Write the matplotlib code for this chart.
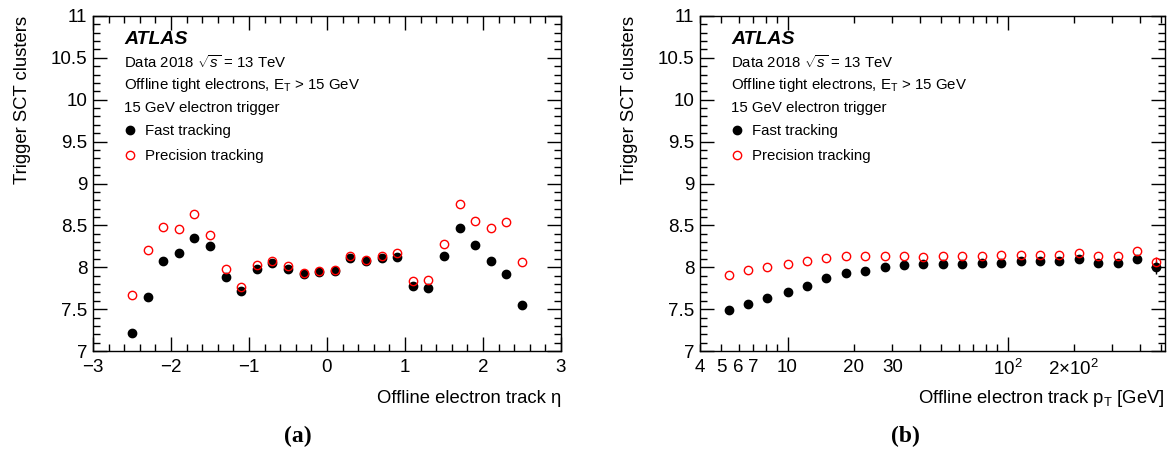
import matplotlib
matplotlib.use("Agg")
import matplotlib.pyplot as plt
from matplotlib.ticker import MultipleLocator, FixedLocator, FixedFormatter, FuncFormatter
from matplotlib.lines import Line2D

plt.rcParams['font.family'] = ['Liberation Sans', 'DejaVu Sans']
plt.rcParams['mathtext.fontset'] = 'custom'
plt.rcParams['mathtext.rm'] = 'Liberation Sans'
plt.rcParams['mathtext.it'] = 'Liberation Sans:italic'
plt.rcParams['mathtext.bf'] = 'Liberation Sans:bold'

# ---------------- data ----------------
eta = [-2.5, -2.3, -2.1, -1.9, -1.7, -1.5, -1.3, -1.1, -0.9, -0.7, -0.5, -0.3, -0.1,
       0.1, 0.3, 0.5, 0.7, 0.9, 1.1, 1.3, 1.5, 1.7, 1.9, 2.1, 2.3, 2.5]
eta_fast = [7.22, 7.65, 8.08, 8.17, 8.35, 8.25, 7.88, 7.72, 7.98, 8.05, 7.98, 7.92, 7.94,
            7.96, 8.11, 8.07, 8.11, 8.12, 7.78, 7.75, 8.13, 8.47, 8.26, 8.07, 7.92, 7.55]
eta_prec = [7.67, 8.21, 8.48, 8.46, 8.63, 8.39, 7.98, 7.77, 8.03, 8.08, 8.01, 7.93, 7.95,
            7.97, 8.13, 8.09, 8.14, 8.17, 7.83, 7.85, 8.28, 8.76, 8.55, 8.47, 8.54, 8.06]

pt = [5.4, 6.6, 8.1, 10.0, 12.2, 15.0, 18.4, 22.5, 27.6, 33.8, 41.5, 50.8, 62.3, 76.3,
      93.5, 114.6, 140.4, 172.0, 210.8, 258.3, 316.5, 387.8, 475.0]
pt_fast = [7.49, 7.56, 7.63, 7.70, 7.78, 7.87, 7.93, 7.96, 8.00, 8.03, 8.04, 8.04, 8.04,
           8.05, 8.05, 8.07, 8.07, 8.07, 8.10, 8.05, 8.05, 8.10, 8.00]
pt_prec = [7.91, 7.97, 8.00, 8.04, 8.08, 8.11, 8.13, 8.13, 8.13, 8.13, 8.12, 8.13, 8.13,
           8.14, 8.15, 8.15, 8.15, 8.15, 8.17, 8.13, 8.13, 8.19, 8.06]
pt_fast_err = [0, 0, 0, 0, 0, 0, 0, 0, 0, 0, 0, 0, 0, 0, 0, 0, 0, 0, 0, 0, 0, 0, 0.08]
pt_prec_err = [0, 0, 0, 0, 0, 0, 0, 0, 0, 0, 0, 0, 0, 0, 0, 0, 0, 0, 0, 0, 0, 0, 0.06]

pt_major = [10, 100]
pt_major_labels = ['10', '$10^{2}$']
pt_minor = [4, 5, 6, 7, 8, 9, 20, 30, 40, 50, 60, 70, 80, 90, 200, 300, 400, 500]
pt_minor_labels = ['4', '5', '6', '7', '', '', '20', '30', '', '', '', '', '', '',
                   '$2{\\times}10^{2}$', '', '', '']

ylabel = 'Trigger SCT clusters'
info_lines = ['Data 2018 $\\sqrt{s}$ = 13 TeV',
              'Offline tight electrons, E$_\\mathrm{T}$ > 15 GeV',
              '15 GeV electron trigger']
series_labels = ['Fast tracking', 'Precision tracking']

# ---------------- layout ----------------
W, H = 1174, 450
fig = plt.figure(figsize=(W / 100, H / 100), dpi=100)


def rect(x0, y0, x1, y1):
    return [x0 / W, 1 - y1 / H, (x1 - x0) / W, (y1 - y0) / H]


def fxy(x, y):
    return x / W, 1 - y / H


axL = fig.add_axes(rect(93, 16, 561, 351))
axR = fig.add_axes(rect(700, 16, 1165, 351))

TICK_FS = 13.5
LAB_FS = 13.3
TXT_FS = 10.8
MS = 6.0

for ax in (axL, axR):
    ax.set_ylim(7, 11)
    ax.yaxis.set_major_locator(MultipleLocator(0.5))
    ax.yaxis.set_minor_locator(MultipleLocator(0.1))
    ax.yaxis.set_major_formatter(FuncFormatter(lambda v, p: f"{v:g}"))
    ax.tick_params(which='both', direction='in', top=True, right=True, width=1.0,
                   labelsize=TICK_FS, color='black')
    ax.tick_params(which='major', length=10)
    ax.tick_params(which='minor', length=5)
    ax.tick_params(axis='x', which='both', pad=6)
    ax.tick_params(axis='y', which='both', pad=4)
    for s in ax.spines.values():
        s.set_linewidth(1.0)
    ax.set_ylabel(ylabel, fontsize=LAB_FS, loc='top', labelpad=14)

# left panel
axL.set_xlim(-3, 3)
axL.xaxis.set_major_locator(MultipleLocator(1))
axL.xaxis.set_minor_locator(MultipleLocator(0.2))
axL.plot(eta, eta_fast, 'o', color='black', ms=MS, ls='none', label=series_labels[0])
axL.plot(eta, eta_prec, 'o', mfc='none', mec='red', mew=1.0, ms=MS, ls='none',
         label=series_labels[1])
axL.set_xlabel('Offline electron track η', fontsize=LAB_FS, loc='right', labelpad=10)

# right panel
axR.set_xscale('log')
axR.set_xlim(4, 520)
axR.xaxis.set_major_locator(FixedLocator(pt_major))
axR.xaxis.set_major_formatter(FixedFormatter(pt_major_labels))
axR.xaxis.set_minor_locator(FixedLocator(pt_minor))
axR.xaxis.set_minor_formatter(FixedFormatter(pt_minor_labels))
axR.tick_params(axis='x', which='minor', labelsize=TICK_FS)
axR.errorbar(pt, pt_fast, yerr=pt_fast_err, fmt='o', color='black', ms=MS,
             elinewidth=1.0, capsize=0, label=series_labels[0])
axR.errorbar(pt, pt_prec, yerr=pt_prec_err, fmt='o', mfc='none', mec='red', ecolor='red',
             mew=1.0, ms=MS, elinewidth=1.0, capsize=0, label=series_labels[1])
axR.set_xlabel('Offline electron track p$_\\mathrm{T}$ [GeV]', fontsize=LAB_FS,
               loc='right', labelpad=6)

# annotations
for dx, tag, ax in ((0, '(a)', axL), (607, '(b)', axR)):
    fig.text(*fxy(124 + dx, 39), 'ATLAS', fontsize=14, fontweight='bold',
             fontstyle='italic', va='center', ha='left')
    for i, line in enumerate(info_lines):
        fig.text(*fxy(124 + dx, 62 + 23 * i), line, fontsize=TXT_FS, va='center',
                 ha='left')
    handles = [Line2D([], [], marker='o', color='black', ls='none', ms=MS),
               Line2D([], [], marker='o', mfc='none', mec='red', mew=1.0, ls='none', ms=MS)]
    ax.legend(handles, series_labels, loc='upper left', frameon=False,
              bbox_to_anchor=fxy(124 + dx, 124), bbox_transform=fig.transFigure,
              fontsize=TXT_FS, handlelength=0.8, handletextpad=0.6,
              labelspacing=0.72, borderpad=0, borderaxespad=0)
    fig.text(*fxy(298 + dx, 436), tag, fontsize=17, fontweight='bold',
             family='Liberation Serif', ha='center', va='center')

fig.savefig('out.png', dpi=100)
